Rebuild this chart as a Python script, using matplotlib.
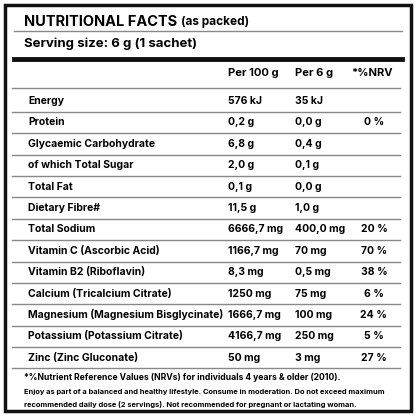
import matplotlib
matplotlib.use("Agg")
import matplotlib.pyplot as plt

labels = ["Energy", "Protein", "Glycaemic Carbohydrate", "of which Total Sugar", "Total Fat",
          "Dietary Fibre#", "Total Sodium", "Vitamin C (Ascorbic Acid)", "Vitamin B2 (Riboflavin)",
          "Calcium (Tricalcium Citrate)", "Magnesium (Magnesium Bisglycinate)",
          "Potassium (Potassium Citrate)", "Zinc (Zinc Gluconate)"]
per100 = ["576 kJ", "0,2 g", "6,8 g", "2,0 g", "0,1 g", "11,5 g", "6666,7 mg", "1166,7 mg",
          "8,3 mg", "1250 mg", "1666,7 mg", "4166,7 mg", "50 mg"]
per6 = ["35 kJ", "0,0 g", "0,4 g", "0,1 g", "0,0 g", "1,0 g", "400,0 mg", "70 mg", "0,5 mg",
        "75 mg", "100 mg", "250 mg", "3 mg"]
nrv = ["", "0 %", "", "", "", "", "20 %", "70 %", "38 %", "6 %", "24 %", "5 %", "27 %"]
headers = ["Per 100 g", "Per 6 g", "*%NRV"]

plt.rcParams['font.family'] = ['Inter', 'DejaVu Sans']
fig = plt.figure(figsize=(4.16, 4.16), dpi=100)
ax = fig.add_axes([0, 0, 1, 1])
ax.set_xlim(0, 416); ax.set_ylim(416, 0); ax.axis('off')

ax.add_patch(plt.Rectangle((5, 5), 406, 406, fill=False, lw=2.5, ec='#111'))
t = ax.text(24, 22, "NUTRITIONAL FACTS", fontsize=10.5, fontweight='bold', va='center')
ax.annotate("(as packed)", xy=(1, 0.5), xycoords=t, xytext=(3, 0), textcoords='offset points',
            fontsize=8.5, fontweight='bold', va='center')
ax.plot([14, 402], [31, 31], color='#888', lw=1)
ax.text(24, 44, "Serving size: 6 g (1 sachet)", fontsize=9.5, fontweight='bold', va='center')
ax.plot([14, 402], [59, 59], color='#111', lw=3.5)
hx = [228, 295, 372]
for i, h in enumerate(headers):
    ax.text(hx[i], 73, h, fontsize=8, fontweight='bold', va='center', ha='center' if i == 2 else 'left')
y0, dy = 101, 21.4
ax.plot([12, 400], [y0 - dy / 2 - 2, y0 - dy / 2 - 2], color='#888', lw=1)
for i in range(len(labels)):
    y = y0 + i * dy
    ax.text(28, y, labels[i], fontsize=7.5, fontweight='bold', va='center')
    ax.text(228, y, per100[i], fontsize=7.5, fontweight='bold', va='center')
    ax.text(295, y, per6[i], fontsize=7.5, fontweight='bold', va='center')
    ax.text(374, y, nrv[i], fontsize=7.5, fontweight='bold', va='center', ha='center')
    ax.plot([12, 400], [y + dy / 2, y + dy / 2], color='#888', lw=1)
ax.text(24, 378, "*%Nutrient Reference Values (NRVs) for individuals 4 years & older (2010).",
        fontsize=6.2, fontweight='bold', va='center')
ax.text(24, 392, "Enjoy as part of a balanced and healthy lifestyle. Consume in moderation. Do not exceed maximum",
        fontsize=5.4, fontweight='bold', va='center')
ax.text(24, 405, "recommended daily dose (2 servings). Not recommended for pregnant or lactating woman.",
        fontsize=5.4, fontweight='bold', va='center')
fig.savefig("out.png", dpi=100)
